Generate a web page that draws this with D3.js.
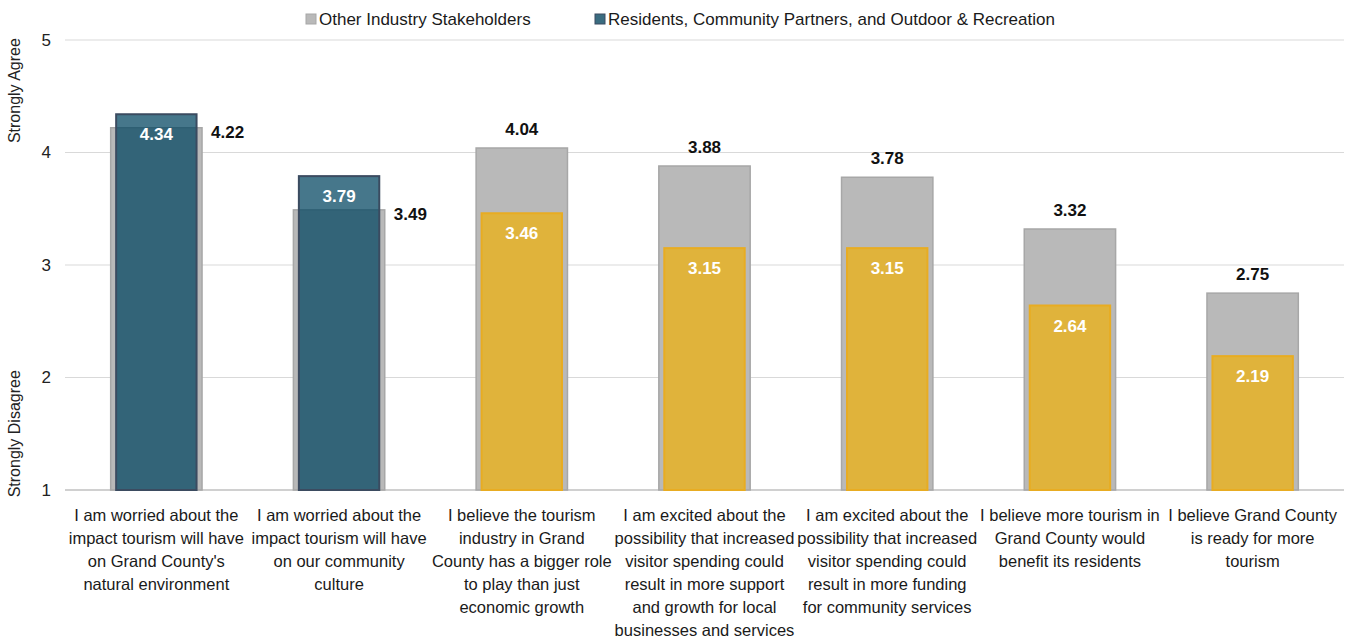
<!DOCTYPE html>
<html>
<head>
<meta charset="utf-8">
<script src="https://cdn.jsdelivr.net/npm/d3@7"></script>
<style>
  html, body { margin: 0; padding: 0; background: #fff; }
  svg { display: block; }
  text { font-family: "Liberation Sans Narrow", "Arial Narrow", "Liberation Sans", Arial, sans-serif; }
</style>
</head>
<body>
<svg id="chart" width="1352" height="640"></svg>
<script>
// Survey statements (line breaks as wrapped under each bar)
const categories = [
  "I am worried about the\nimpact tourism will have\non Grand County's\nnatural environment",
  "I am worried about the\nimpact tourism will have\non our community\nculture",
  "I believe the tourism\nindustry in Grand\nCounty has a bigger role\nto play than just\neconomic growth",
  "I am excited about the\npossibility that increased\nvisitor spending could\nresult in more support\nand growth for local\nbusinesses and services",
  "I am excited about the\npossibility that increased\nvisitor spending could\nresult in more funding\nfor community services",
  "I believe more tourism in\nGrand County would\nbenefit its residents",
  "I believe Grand County\nis ready for more\ntourism"
];
// Mean agreement scores (1 = Strongly Disagree, 5 = Strongly Agree)
const otherStakeholders = [4.22, 3.49, 4.04, 3.88, 3.78, 3.32, 2.75];
const residents = [4.34, 3.79, 3.46, 3.15, 3.15, 2.64, 2.19];
// Statement type: concern statements vs. support statements
const statementType = ["concern", "concern", "support", "support", "support", "support", "support"];
const yTicks = [1, 2, 3, 4, 5];
const seriesNames = ["Other Industry Stakeholders", "Residents, Community Partners, and Outdoor & Recreation"];

const svg = d3.select("#chart");
const plot = { left: 65, right: 1344, top: 40, bottom: 490 };

const x = d3.scaleBand().domain(categories).range([plot.left, plot.right]).padding(0);
const y = d3.scaleLinear().domain([1, 5]).range([plot.bottom, plot.top]);

const fillFor = { concern: "rgb(2,68,96)", support: "#e0b33b" };
const strokeFor = { concern: "#3b4b60", support: "#e8ac22" };
const opacityFor = { concern: 0.73, support: 1 };

// Gridlines
svg.append("g").selectAll("line").data(yTicks).join("line")
  .attr("x1", plot.left).attr("x2", plot.right)
  .attr("y1", d => y(d)).attr("y2", d => y(d))
  .attr("stroke", d => d === 1 ? "#d0d0d0" : "#d9d9d9")
  .attr("stroke-width", d => d === 1 ? 2 : 1);

// Y axis tick labels
const yAxis = d3.axisLeft(y).tickValues(yTicks).tickSize(0).tickPadding(0).tickFormat(d3.format("d"));
svg.append("g").attr("transform", "translate(51,0)").call(yAxis)
  .call(g => g.select(".domain").remove())
  .call(g => g.selectAll("text").attr("font-size", 17).attr("fill", "#222")
    .style("font-family", "'Liberation Sans', Arial, sans-serif"));

// Y axis end captions
svg.append("text").attr("transform", "translate(20," + y(4.55) + ") rotate(-90)")
  .attr("text-anchor", "middle").attr("font-size", 16).attr("fill", "#222").text("Strongly Agree");
svg.append("text").attr("transform", "translate(20," + y(1.5) + ") rotate(-90)")
  .attr("text-anchor", "middle").attr("font-size", 16).attr("fill", "#222").text("Strongly Disagree");

const bw = x.bandwidth();
const grayW = bw * 0.5;
const frontW = bw * 0.44;
const idx = d3.range(categories.length);

// Other stakeholders bars (back)
svg.append("g").selectAll("rect").data(idx).join("rect")
  .attr("x", i => x(categories[i]) + (bw - grayW) / 2)
  .attr("width", grayW)
  .attr("y", i => y(otherStakeholders[i]))
  .attr("height", i => y(1) - y(otherStakeholders[i]))
  .attr("fill", "#b9b9b9").attr("stroke", "#a7a7a7").attr("stroke-width", 1.5);

// Residents bars (front)
svg.append("g").selectAll("rect").data(idx).join("rect")
  .attr("x", i => x(categories[i]) + (bw - frontW) / 2)
  .attr("width", frontW)
  .attr("y", i => y(residents[i]))
  .attr("height", i => y(1) - y(residents[i]))
  .attr("fill", i => fillFor[statementType[i]])
  .attr("fill-opacity", i => opacityFor[statementType[i]])
  .attr("stroke", i => strokeFor[statementType[i]]).attr("stroke-width", 2);

// Residents value labels (inside top of bar)
svg.append("g").selectAll("text").data(idx).join("text")
  .attr("x", i => x(categories[i]) + bw / 2)
  .attr("y", i => y(residents[i]) + 26)
  .attr("text-anchor", "middle").attr("font-size", 17).attr("font-weight", "bold")
  .attr("fill", "#fff").text(i => residents[i].toFixed(2));

// Other stakeholders value labels (above bar, or beside it when covered)
svg.append("g").selectAll("text").data(idx).join("text")
  .attr("x", i => residents[i] > otherStakeholders[i]
    ? x(categories[i]) + (bw + grayW) / 2 + 9
    : x(categories[i]) + bw / 2)
  .attr("y", i => residents[i] > otherStakeholders[i]
    ? y(otherStakeholders[i]) + 10
    : y(otherStakeholders[i]) - 13)
  .attr("text-anchor", i => residents[i] > otherStakeholders[i] ? "start" : "middle")
  .attr("font-size", 17).attr("font-weight", "bold").attr("fill", "#111")
  .text(i => otherStakeholders[i].toFixed(2));

// Category labels
const catG = svg.append("g");
idx.forEach(i => {
  const t = catG.append("text")
    .attr("x", x(categories[i]) + bw / 2).attr("y", 521)
    .attr("text-anchor", "middle").attr("font-size", 16.5).attr("fill", "#1a1a1a");
  categories[i].split("\n").forEach((line, k) => {
    t.append("tspan").attr("x", x(categories[i]) + bw / 2).attr("dy", k === 0 ? 0 : 23).text(line);
  });
});

// Legend
const legend = [
  { name: seriesNames[0], fill: "#b9b9b9", stroke: "#a7a7a7", x: 306 },
  { name: seriesNames[1], fill: "#3a6c80", stroke: "#3b4b60", x: 595 }
];
const lg = svg.append("g").selectAll("g").data(legend).join("g")
  .attr("transform", d => "translate(" + d.x + ",14)");
lg.append("rect").attr("width", 10).attr("height", 10)
  .attr("fill", d => d.fill).attr("stroke", d => d.stroke).attr("stroke-width", 1);
lg.append("text").attr("x", 13).attr("y", 11).attr("font-size", 17).attr("fill", "#1a1a1a")
  .text(d => d.name);
</script>
</body>
</html>
